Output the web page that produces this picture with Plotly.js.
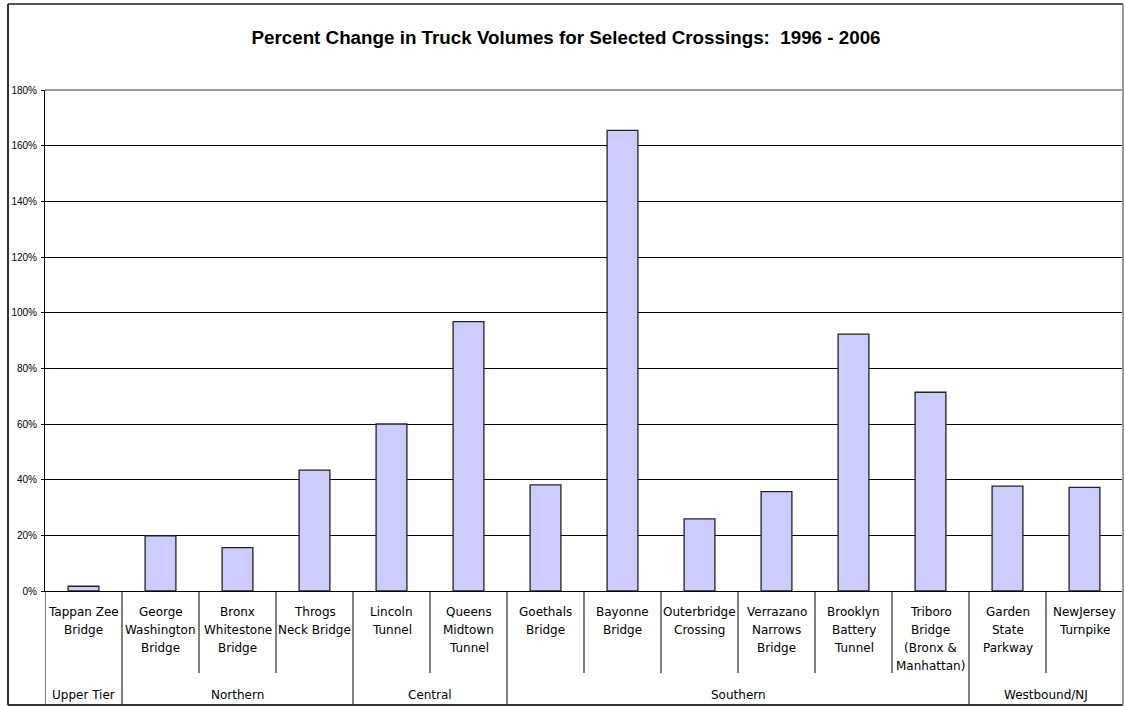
<!DOCTYPE html>
<html>
<head>
<meta charset="utf-8">
<script src="https://cdn.plot.ly/plotly-3.0.1.min.js"></script>
<style>
  html, body { margin: 0; padding: 0; background: #fff; }
  #chart { width: 1125px; height: 706px; }
</style>
</head>
<body>
<div id="chart"></div>
<script>
// ---- Data ----
const categories = [
  "Tappan Zee<br>Bridge",
  "George<br>Washington<br>Bridge",
  "Bronx<br>Whitestone<br>Bridge",
  "Throgs<br>Neck Bridge",
  "Lincoln<br>Tunnel",
  "Queens<br>Midtown<br>Tunnel",
  "Goethals<br>Bridge",
  "Bayonne<br>Bridge",
  "Outerbridge<br>Crossing",
  "Verrazano<br>Narrows<br>Bridge",
  "Brooklyn<br>Battery<br>Tunnel",
  "Triboro<br>Bridge<br>(Bronx &<br>Manhattan)",
  "Garden<br>State<br>Parkway",
  "NewJersey<br>Turnpike"
];
const percentChange = [0.017, 0.198, 0.156, 0.434, 0.600, 0.968, 0.381, 1.655, 0.259, 0.357, 0.923, 0.714, 0.377, 0.372];
const groupNames = ["Upper Tier", "Northern", "Central", "Southern", "Westbound/NJ"];
const groupSizes = [1, 3, 2, 6, 2];
const titleText = "Percent Change in Truck Volumes for Selected Crossings:  1996 - 2006";

// ---- Geometry (pixels) ----
const W = 1125, H = 706;
const M = {l: 45, r: 2, t: 90, b: 115};
const PW = W - M.l - M.r, PH = H - M.t - M.b;
const px2x = px => (px - M.l) / PW;
const py2y = py => (H - M.b - py) / PH;

const labelFont = {family: "DejaVu Sans, Arial, sans-serif", size: 12, color: "#000"};
const lineGap = 18.2, firstLineY = 611.7, groupLabelY = 695;

const annotations = [];
const shapes = [];

// category labels (one annotation per line)
categories.forEach((c, i) => {
  c.split("<br>").forEach((ln, k) => {
    annotations.push({
      x: i, xref: "x", y: py2y(firstLineY + k * lineGap), yref: "paper",
      text: ln, showarrow: false, xanchor: "center", yanchor: "middle",
      font: labelFont
    });
  });
});

// group labels and separators
let start = 0;
const groupEdges = new Set([-0.5]);
groupSizes.forEach((n, g) => {
  const center = start + (n - 1) / 2;
  annotations.push({
    x: center, xref: "x", y: py2y(groupLabelY), yref: "paper",
    text: groupNames[g], showarrow: false, xanchor: "center", yanchor: "middle",
    font: labelFont
  });
  start += n;
  if (start < categories.length) groupEdges.add(start - 0.5);
});
for (let i = 0; i < categories.length; i++) {
  const xe = i - 0.5;
  const isGroup = groupEdges.has(xe);
  shapes.push({
    type: "line", xref: "x", yref: "paper",
    x0: xe, x1: xe, y0: 0, y1: py2y(isGroup ? 705 : 673),
    line: {color: "#000", width: 1}
  });
}

// plot area top (gray) line
shapes.push({type: "line", xref: "paper", yref: "paper", x0: 0, x1: 1, y0: 1, y1: 1,
  line: {color: "#999", width: 2}, layer: "above"});
// outer chart border
shapes.push({type: "line", xref: "paper", yref: "paper", x0: px2x(8), x1: px2x(1123), y0: py2y(4), y1: py2y(4),
  line: {color: "#555", width: 2}});
shapes.push({type: "line", xref: "paper", yref: "paper", x0: px2x(8), x1: px2x(8), y0: py2y(4), y1: py2y(705),
  line: {color: "#333", width: 2}});
shapes.push({type: "line", xref: "paper", yref: "paper", x0: px2x(8), x1: px2x(1123), y0: py2y(705), y1: py2y(705),
  line: {color: "#333", width: 2}});
shapes.push({type: "line", xref: "paper", yref: "paper", x0: px2x(1123), x1: px2x(1123), y0: py2y(4), y1: py2y(705),
  line: {color: "#999", width: 2}});

const trace = {
  type: "bar",
  x: categories,
  y: percentChange,
  width: 0.4,
  marker: {color: "#ccccff", line: {color: "#222", width: 1.3}},
  hoverinfo: "skip"
};

const layout = {
  width: W, height: H,
  margin: M,
  paper_bgcolor: "#fff", plot_bgcolor: "#fff",
  showlegend: false,
  title: {
    text: titleText,
    x: 566 / W, xanchor: "center",
    y: 1 - 37 / H, yanchor: "middle",
    font: {family: "Liberation Sans, Arial, sans-serif", size: 18.8, color: "#000", weight: "bold"}
  },
  xaxis: {
    type: "category",
    range: [-0.5, categories.length - 0.5],
    showticklabels: false, ticks: "",
    showgrid: false, zeroline: false,
    showline: true, linecolor: "#000", linewidth: 1,
    fixedrange: true
  },
  yaxis: {
    range: [0, 1.8], dtick: 0.2, tick0: 0,
    tickformat: ".0%",
    ticks: "outside", ticklen: 3, tickcolor: "#000", tickwidth: 1,
    ticklabelstandoff: 2,
    tickfont: {family: "Liberation Sans, Arial, sans-serif", size: 10, color: "#000"},
    showgrid: true, gridcolor: "#000", gridwidth: 1,
    zeroline: false,
    showline: true, linecolor: "#000", linewidth: 1,
    fixedrange: true
  },
  shapes: shapes,
  annotations: annotations
};

Plotly.newPlot("chart", [trace], layout, {displayModeBar: false, staticPlot: true});
</script>
</body>
</html>
